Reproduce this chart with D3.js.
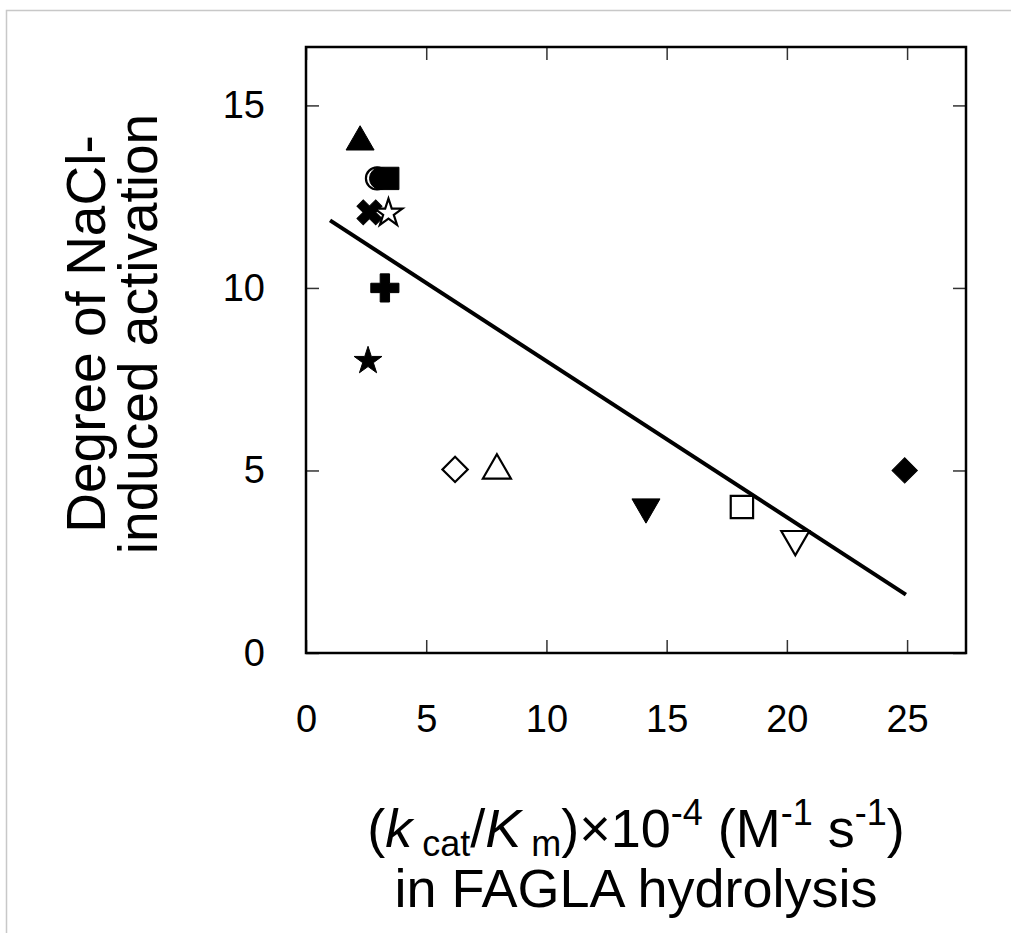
<!DOCTYPE html>
<html lang="en">
<head>
<meta charset="utf-8">
<title>NaCl activation vs kcat/Km</title>
<script src="https://d3js.org/d3.v7.min.js"></script>
<style>
  body { margin: 0; background: #fff; }
  text { font-family: "Liberation Sans", Arial, sans-serif; fill: #000; }
</style>
</head>
<body>
<script>
// kcat/Km x 10^-4 (M-1 s-1) and degree of activation, one entry per enzyme
var kcatKm   = [2.25, 2.95, 3.1, 3.4, 2.64, 3.43, 3.28, 2.58, 6.2, 7.94, 14.14, 18.13, 20.35, 24.9];
var activity = [14.0, 13.0, 13.0, 13.0, 12.07, 12.05, 10.0, 8.0, 5.03, 5.0, 4.0, 4.0, 3.12, 5.0];
var shapes   = ["triangle", "circle", "circle", "square", "x", "star", "plus", "star",
                "diamond", "triangle", "down", "square", "down", "diamond"];
var filled   = [true, false, true, true, true, false, true, true,
                false, false, true, false, false, true];

// regression line end points
var lineX = [1.0, 24.95];
var lineY = [11.85, 1.6];

var xTicks = [0, 5, 10, 15, 20, 25];
var yTicks = [0, 5, 10, 15];

var W = 1011, H = 933;
var margin = { left: 306, right: 966, top: 47, bottom: 653 };

var svg = d3.select("body").append("svg")
    .attr("width", W).attr("height", H);

// faint outer border
svg.append("path")
    .attr("d", "M6.5," + H + "V10.5H" + W)
    .attr("fill", "none").attr("stroke", "#c8c8c8").attr("stroke-width", 1.5);

var x = d3.scaleLinear().domain([0, 27.45]).range([margin.left, margin.right]);
var y = d3.scaleLinear().domain([0, 16.6]).range([margin.bottom, margin.top]);

// inward ticks on all four sides
function ticks(g) {
    g.select(".domain").remove();
    g.selectAll(".tick line").attr("stroke", "#333").attr("stroke-width", 1.5);
}
svg.append("g").attr("transform", "translate(0," + margin.bottom + ")")
    .call(d3.axisBottom(x).tickValues(xTicks).tickSizeInner(-13).tickSizeOuter(0).tickPadding(52))
    .call(ticks)
    .selectAll("text").attr("font-size", 38);
svg.append("g").attr("transform", "translate(0," + margin.top + ")")
    .call(d3.axisTop(x).tickValues(xTicks).tickSizeInner(-13).tickSizeOuter(0).tickFormat(""))
    .call(ticks);
svg.append("g").attr("transform", "translate(" + margin.left + ",0)")
    .call(d3.axisLeft(y).tickValues(yTicks).tickSizeInner(-13).tickSizeOuter(0).tickPadding(41))
    .call(ticks)
    .selectAll("text").attr("font-size", 38);
svg.append("g").attr("transform", "translate(" + margin.right + ",0)")
    .call(d3.axisRight(y).tickValues(yTicks).tickSizeInner(-13).tickSizeOuter(0).tickFormat(""))
    .call(ticks);
svg.selectAll(".tick text").attr("font-family", "Liberation Sans, Arial, sans-serif").attr("fill", "#000");

// plot frame
svg.append("rect")
    .attr("x", margin.left).attr("y", margin.top)
    .attr("width", margin.right - margin.left).attr("height", margin.bottom - margin.top)
    .attr("fill", "none").attr("stroke", "#000").attr("stroke-width", 2.5);

// fit line
svg.append("line")
    .attr("x1", x(lineX[0])).attr("y1", y(lineY[0]))
    .attr("x2", x(lineX[1])).attr("y2", y(lineY[1]))
    .attr("stroke", "#000").attr("stroke-width", 4);

// markers
var symDef = {
    triangle: [d3.symbolTriangle, 340, 0],
    down:     [d3.symbolTriangle, 340, 180],
    circle:   [d3.symbolCircle, 380, 0],
    square:   [d3.symbolSquare, 500, 0],
    diamond:  [d3.symbolSquare, 320, 45],
    star:     [d3.symbolStar, 240, 0],
    plus:     [d3.symbolCross, 440, 0],
    x:        [d3.symbolCross, 390, 45]
};
var pts = kcatKm.map(function(v, i) {
    return { x: v, y: activity[i], s: shapes[i], f: filled[i] };
});
svg.selectAll("path.pt").data(pts).enter().append("path")
    .attr("class", "pt")
    .attr("d", function(d) { return d3.symbol().type(symDef[d.s][0]).size(symDef[d.s][1])(); })
    .attr("transform", function(d) {
        return "translate(" + x(d.x) + "," + y(d.y) + ") rotate(" + symDef[d.s][2] + ")";
    })
    .attr("fill", function(d) { return d.f ? "#000" : "#fff"; })
    .attr("stroke", "#000")
    .attr("stroke-width", function(d) { return d.f ? 1 : 2.2; })
    .attr("stroke-linejoin", "miter");

// y axis title
var yt = svg.append("text")
    .attr("transform", "translate(110,334) rotate(-90)")
    .attr("text-anchor", "middle")
    .attr("font-size", 55);
yt.append("tspan").attr("x", 0).attr("dy", "-0.1em").text("Degree of NaCl-");
yt.append("tspan").attr("x", 0).attr("dy", "0.95em").text("induced activation");

// x axis title
var xt = svg.append("text")
    .attr("x", 636).attr("y", 847)
    .attr("text-anchor", "middle")
    .attr("font-size", 54);
xt.append("tspan").text("(");
xt.append("tspan").attr("font-style", "italic").text("k");
xt.append("tspan").attr("font-size", 36).attr("dy", 9).text(" cat");
xt.append("tspan").attr("dy", -9).text("/");
xt.append("tspan").attr("font-style", "italic").text("K");
xt.append("tspan").attr("font-size", 36).attr("dy", 9).text(" m");
xt.append("tspan").attr("dy", -9).text(")×10");
xt.append("tspan").attr("font-size", 36).attr("dy", -22).text("-4");
xt.append("tspan").attr("dy", 22).text(" (M");
xt.append("tspan").attr("font-size", 36).attr("dy", -22).text("-1");
xt.append("tspan").attr("dy", 22).text(" s");
xt.append("tspan").attr("font-size", 36).attr("dy", -22).text("-1");
xt.append("tspan").attr("dy", 22).text(")");

svg.append("text")
    .attr("x", 636).attr("y", 907)
    .attr("text-anchor", "middle")
    .attr("font-size", 54)
    .text("in FAGLA hydrolysis");
</script>
</body>
</html>
